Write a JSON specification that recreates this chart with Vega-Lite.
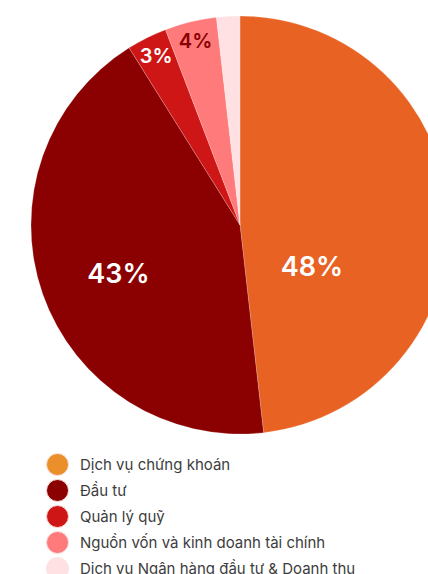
{
  "$schema": "https://vega.github.io/schema/vega-lite/v6.json",
  "width": 480,
  "height": 450,
  "padding": 0,
  "background": "white",
  "config": {"view": {"stroke": null}, "font": "Inter"},
  "data": {"values": [
    {"idx": 1, "cat": "Dịch vụ chứng khoán", "value": 48.2, "label": "48%"},
    {"idx": 2, "cat": "Đầu tư", "value": 42.9, "label": "43%"},
    {"idx": 3, "cat": "Quản lý quỹ", "value": 3.1, "label": "3%"},
    {"idx": 4, "cat": "Nguồn vốn và kinh doanh tài chính", "value": 4.0, "label": "4%"},
    {"idx": 5, "cat": "Dịch vụ Ngân hàng đầu tư & Doanh thu", "value": 1.8, "label": ""}
  ]},
  "encoding": {
    "theta": {"field": "value", "type": "quantitative", "stack": true},
    "order": {"field": "idx", "type": "quantitative"}
  },
  "layer": [
    {
      "mark": {"type": "arc", "outerRadius": 209, "stroke": "white", "strokeWidth": 0.2},
      "encoding": {
        "color": {
          "field": "cat", "type": "nominal",
          "scale": {"domain": ["Dịch vụ chứng khoán", "Đầu tư", "Quản lý quỹ", "Nguồn vốn và kinh doanh tài chính", "Dịch vụ Ngân hàng đầu tư & Doanh thu"],
                    "range": ["#E86224", "#8B0000", "#CE1616", "#FF7B7B", "#FFE1E3"]},
          "legend": null
        }
      }
    },
    {
      "mark": {"type": "arc", "outerRadius": 209, "opacity": 0},
      "encoding": {
        "fill": {
          "field": "cat", "type": "nominal",
          "scale": {"domain": ["Dịch vụ chứng khoán", "Đầu tư", "Quản lý quỹ", "Nguồn vốn và kinh doanh tài chính", "Dịch vụ Ngân hàng đầu tư & Doanh thu"],
                    "range": ["#EA8F2A", "#8B0000", "#CE1616", "#FF7B7B", "#FFE1E3"]},
          "legend": {
            "title": null, "orient": "none", "legendX": 46, "legendY": 453,
            "symbolType": "circle", "symbolSize": 484, "symbolOpacity": 1,
            "symbolStrokeColor": "#FBE3DF", "symbolStrokeWidth": 1,
            "labelFont": "Inter", "labelFontSize": 15, "labelColor": "#3d3d3d",
            "labelOffset": 11, "rowPadding": -1, "labelLimit": 400, "padding": 0
          }
        }
      }
    },
    {
      "mark": {"type": "text", "radius": 90, "dx": -18, "dy": 48, "fontSize": 27, "fontWeight": 600, "fill": "white", "font": "Inter"},
      "encoding": {"text": {"condition": {"test": "datum.idx == 1", "field": "label"}, "value": ""}}
    },
    {
      "mark": {"type": "text", "radius": 132, "dx": 3, "dy": 6, "fontSize": 27, "fontWeight": 600, "fill": "white", "font": "Inter"},
      "encoding": {"text": {"condition": {"test": "datum.idx == 2", "field": "label"}, "value": ""}}
    },
    {
      "mark": {"type": "text", "radius": 188, "fontSize": 20, "fontWeight": 600, "font": "Inter"},
      "encoding": {
        "text": {"condition": {"test": "datum.idx >= 3", "field": "label"}, "value": ""},
        "fill": {"condition": {"test": "datum.idx == 4", "value": "#8B0000"}, "value": "white"}
      }
    }
  ],
  "resolve": {"scale": {"color": "independent", "fill": "independent"}}
}
